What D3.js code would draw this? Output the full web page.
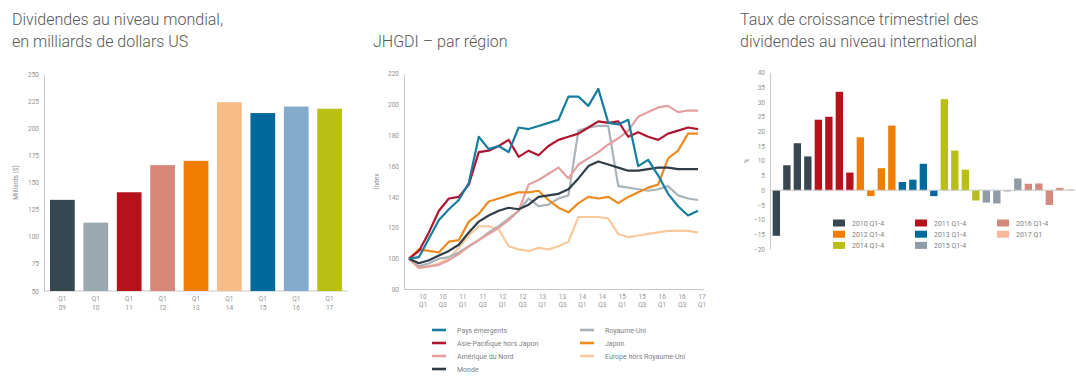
<!doctype html>
<html lang="fr">
<head>
    <meta charset="UTF-8">
    <title>Dividendes</title>
    <style>
        body { margin: 0; background: #fff; }
        svg text { font-family: Roboto, "Open Sans", sans-serif; }
        .title { font-size: 16px; fill: #575757; font-weight: 300; }
        .tick text { font-size: 6.5px; fill: #939393; }
        .lbl { font-size: 6.5px; fill: #939393; }
        .leg { font-size: 7px; fill: #808080; }
    </style>
</head>
<body>

<div class="canvas"></div>

<script src="https://d3js.org/d3.v7.min.js"></script>
<script>
    // --- chart 1: dividendes mondiaux Q1 (milliards USD)
    const dividendYears = ['09', '10', '11', '12', '13', '14', '15', '16', '17'];
    const dividendValues = [134, 113, 141, 166, 170, 224, 214, 220, 218];
    const dividendColors = ['#37474f', '#9aa8b0', '#b5121b', '#d9867a', '#ef7d00', '#f8bd86', '#00699b', '#82abcc', '#b9bf15'];
    const dividendTicks = [50, 75, 100, 125, 150, 175, 200, 225, 250];

    // --- chart 2: JHGDI par région (2009 Q4 = 100)
    const quarterLabels = [['10', 'Q1'], ['10', 'Q3'], ['11', 'Q1'], ['11', 'Q3'], ['12', 'Q1'], ['12', 'Q3'], ['13', 'Q1'], ['13', 'Q3'],
        ['14', 'Q1'], ['14', 'Q3'], ['15', 'Q1'], ['15', 'Q3'], ['16', 'Q1'], ['16', 'Q3'], ['17', 'Q1']];
    const indexTicks = [80, 100, 120, 140, 160, 180, 200, 220];
    const emerging = [100, 101, 113, 125, 132, 138, 149, 179, 171, 173, 169, 185, 184, 186, 188, 190, 205, 205, 199, 210, 188, 187, 190, 160, 164, 154, 142, 134, 128, 131];
    const asiaPacific = [100, 105, 117, 131, 139, 140, 148, 169, 170, 173, 177, 166, 170, 167, 173, 177, 179, 181, 185, 189, 188, 189, 179, 182, 179, 177, 181, 183, 185, 184];
    const northAmerica = [100, 94, 95, 96, 99, 103, 108, 112, 116, 120, 125, 131, 148, 151, 155, 159, 152, 161, 165, 169, 174, 178, 183, 192, 195, 198, 199, 195, 196, 196];
    const world = [100, 97, 99, 102, 105, 109, 117, 124, 128, 131, 133, 132, 135, 140, 141, 142, 145, 152, 160, 163, 161, 159, 157, 157, 158, 159, 159, 158, 158, 158];
    const uk = [100, 95, 97, 100, 101, 104, 108, 112, 117, 121, 126, 131, 139, 134, 135, 139, 141, 183, 185, 186, 186, 147, 146, 145, 144, 145, 147, 141, 139, 138];
    const japan = [100, 106, 105, 104, 111, 112, 124, 129, 137, 139, 141, 143, 143, 144, 138, 133, 130, 136, 140, 139, 140, 136, 140, 143, 146, 148, 165, 170, 181, 181];
    const europe = [100, 94, 95, 97, 100, 107, 115, 121, 121, 119, 108, 106, 105, 107, 106, 108, 111, 127, 127, 127, 126, 116, 114, 115, 116, 117, 118, 118, 118, 117];

    const regions = [
        { name: 'Pays émergents', values: emerging, color: '#167d9f' },
        { name: 'Asie-Pacifique hors Japon', values: asiaPacific, color: '#b01530' },
        { name: 'Amérique du Nord', values: northAmerica, color: '#e4a0a0' },
        { name: 'Monde', values: world, color: '#2e3d47' },
        { name: 'Royaume-Uni', values: uk, color: '#a9b3b8' },
        { name: 'Japon', values: japan, color: '#ee8a1e' },
        { name: 'Europe hors Royaume-Uni', values: europe, color: '#f8c99c' }
    ];
    const drawOrder = ['Europe hors Royaume-Uni', 'Royaume-Uni', 'Amérique du Nord', 'Japon', 'Monde', 'Asie-Pacifique hors Japon', 'Pays émergents'];

    // --- chart 3: croissance trimestrielle (%)
    const growthYears = ['2010', '2011', '2012', '2013', '2014', '2015', '2016', '2017'];
    const growthValues = [-15.5, 8.5, 16, 11.5, 24, 25, 33.5, 6, 18, -2, 7.5, 22, 2.8, 3.6, 9, -2, 31, 13.5, 7, -3.5, -4.2, -4.5, -0.4, 4, 2.2, 2.3, -5, 0.8, 0.3];
    const growthLegend = ['2010 Q1-4', '2011 Q1-4', '2012 Q1-4', '2013 Q1-4', '2014 Q1-4', '2015 Q1-4', '2016 Q1-4', '2017 Q1'];
    const growthColors = ['#37474f', '#b5121b', '#ef7d00', '#00699b', '#b9bf15', '#8f9ca8', '#d4897c', '#f7b89a'];
    const growthTicks = [-20, -15, -10, -5, 0, 5, 10, 15, 20, 25, 30, 35, 40];

    const svg = d3.select('.canvas').append('svg')
        .attr('width', 1076)
        .attr('height', 377);

    const axisColor = '#c8c8c8';

    const titles = [
        { x: 12, lines: ['Dividendes au niveau mondial,', 'en milliards de dollars US'] },
        { x: 373, lines: ['', 'JHGDI – par région'] },
        { x: 740, lines: ['Taux de croissance trimestriel des', 'dividendes au niveau international'] }
    ];
    titles.forEach(t => {
        t.lines.forEach((line, i) => {
            svg.append('text').attr('class', 'title')
                .attr('x', t.x).attr('y', 25 + i * 22)
                .text(line);
        });
    });

    const styleAxis = g => {
        g.select('.domain').attr('stroke', axisColor);
        g.selectAll('.tick line').remove();
    };

    // ================= chart 1
    const x1 = d3.scaleBand()
        .domain(dividendYears)
        .range([44, 348])
        .paddingInner(0.26)
        .paddingOuter(0.18);
    const y1 = d3.scaleLinear().domain([50, 250]).range([291, 74]);

    const g1 = svg.append('g');
    g1.append('g')
        .attr('transform', 'translate(44, 0)')
        .call(d3.axisLeft(y1).tickValues(dividendTicks).tickSize(0).tickPadding(5))
        .call(styleAxis);
    g1.append('line')
        .attr('x1', 44).attr('x2', 348)
        .attr('y1', y1(50)).attr('y2', y1(50))
        .attr('stroke', axisColor);

    g1.selectAll('rect.bar')
        .data(dividendValues)
        .enter()
        .append('rect')
        .attr('class', 'bar')
        .attr('x', (d, i) => x1(dividendYears[i]))
        .attr('width', x1.bandwidth())
        .attr('y', d => y1(d))
        .attr('height', d => y1(50) - y1(d))
        .attr('fill', (d, i) => dividendColors[i]);

    dividendYears.forEach(yr => {
        const cx = x1(yr) + x1.bandwidth() / 2;
        g1.append('text').attr('class', 'lbl').attr('text-anchor', 'middle')
            .attr('x', cx).attr('y', 301).text('Q1');
        g1.append('text').attr('class', 'lbl').attr('text-anchor', 'middle')
            .attr('x', cx).attr('y', 310).text(yr);
    });
    g1.append('text').attr('class', 'lbl').attr('text-anchor', 'middle')
        .attr('transform', `translate(18, ${(y1(50) + y1(250)) / 2}) rotate(-90)`)
        .text('Milliards ($)');

    // ================= chart 2
    const x2 = d3.scaleLinear().domain([0, emerging.length - 1]).range([409, 698]);
    const xLab = d3.scalePoint().domain(quarterLabels.map(d => d.join(' '))).range([423, 702]);
    const y2 = d3.scaleLinear().domain([80, 220]).range([289.5, 73.5]);

    const g2 = svg.append('g');
    g2.append('g')
        .attr('transform', 'translate(404, 0)')
        .call(d3.axisLeft(y2).tickValues(indexTicks).tickSize(0).tickPadding(5))
        .call(styleAxis);
    g2.append('line')
        .attr('x1', 404).attr('x2', 704)
        .attr('y1', y2(80)).attr('y2', y2(80))
        .attr('stroke', axisColor);

    quarterLabels.forEach(q => {
        const cx = xLab(q.join(' '));
        g2.append('text').attr('class', 'lbl').attr('text-anchor', 'middle')
            .attr('x', cx).attr('y', 299).text(q[0]);
        g2.append('text').attr('class', 'lbl').attr('text-anchor', 'middle')
            .attr('x', cx).attr('y', 307).text(q[1]);
    });
    g2.append('text').attr('class', 'lbl').attr('text-anchor', 'middle')
        .attr('transform', `translate(379, ${(y2(80) + y2(220)) / 2}) rotate(-90)`)
        .text('Index');

    const line = d3.line()
        .x((d, i) => x2(i))
        .y(d => y2(d));

    drawOrder.forEach(name => {
        const r = regions.find(v => v.name === name);
        g2.append('path')
            .datum(r.values)
            .attr('d', line)
            .attr('fill', 'none')
            .attr('stroke', r.color)
            .attr('stroke-width', 2.2)
            .attr('stroke-linejoin', 'round');
    });

    // legend 2 - two columns
    const legCols = [[0, 1, 2, 3], [4, 5, 6]];
    legCols.forEach((col, c) => {
        col.forEach((idx, r) => {
            const lx = c === 0 ? 432 : 580;
            const ly = 330 + r * 13;
            g2.append('line')
                .attr('x1', lx).attr('x2', lx + 14)
                .attr('y1', ly).attr('y2', ly)
                .attr('stroke', regions[idx].color)
                .attr('stroke-width', 2.6);
            g2.append('text').attr('class', 'leg')
                .attr('x', lx + 25).attr('y', ly + 2.5)
                .text(regions[idx].name);
        });
    });

    // ================= chart 3
    const growthQuarters = [];
    growthYears.forEach(yr => {
        const n = yr === '2017' ? 1 : 4;
        for (let q = 1; q <= n; q++) growthQuarters.push(`${yr} Q${q}`);
    });

    const x3 = d3.scaleBand()
        .domain(growthQuarters)
        .range([771, 1075.7])
        .paddingInner(0.3)
        .paddingOuter(0.16);
    const y3 = d3.scaleLinear().domain([-20, 40]).range([249, 72.7]);

    const g3 = svg.append('g');
    g3.append('g')
        .attr('transform', 'translate(770, 0)')
        .call(d3.axisLeft(y3).tickValues(growthTicks).tickSize(0).tickPadding(5))
        .call(styleAxis);

    g3.selectAll('rect.gbar')
        .data(growthValues)
        .enter()
        .append('rect')
        .attr('class', 'gbar')
        .attr('x', (d, i) => x3(growthQuarters[i]))
        .attr('width', x3.bandwidth())
        .attr('y', d => y3(Math.max(0, d)))
        .attr('height', d => Math.abs(y3(d) - y3(0)))
        .attr('fill', (d, i) => growthColors[growthYears.indexOf(growthQuarters[i].slice(0, 4))]);

    g3.append('line')
        .attr('x1', 770).attr('x2', 1075)
        .attr('y1', y3(0)).attr('y2', y3(0))
        .attr('stroke', axisColor);

    g3.append('text').attr('class', 'lbl').attr('text-anchor', 'middle')
        .attr('transform', `translate(749, ${y3(10)}) rotate(-90)`)
        .text('%');

    // legend 3 - three columns, filled column-wise by row
    const leg3Pos = [[0, 0], [1, 0], [0, 1], [1, 1], [0, 2], [1, 2], [2, 0], [2, 1]];
    const leg3X = [833, 915, 997];
    growthLegend.forEach((name, i) => {
        const [c, r] = leg3Pos[i];
        const ly = 223 + r * 11.2;
        g3.append('rect')
            .attr('x', leg3X[c]).attr('y', ly - 3.5)
            .attr('width', 12).attr('height', 7)
            .attr('fill', growthColors[i]);
        g3.append('text').attr('class', 'leg')
            .attr('x', leg3X[c] + 19).attr('y', ly + 2.5)
            .text(name);
    });
</script>
</body>
</html>
